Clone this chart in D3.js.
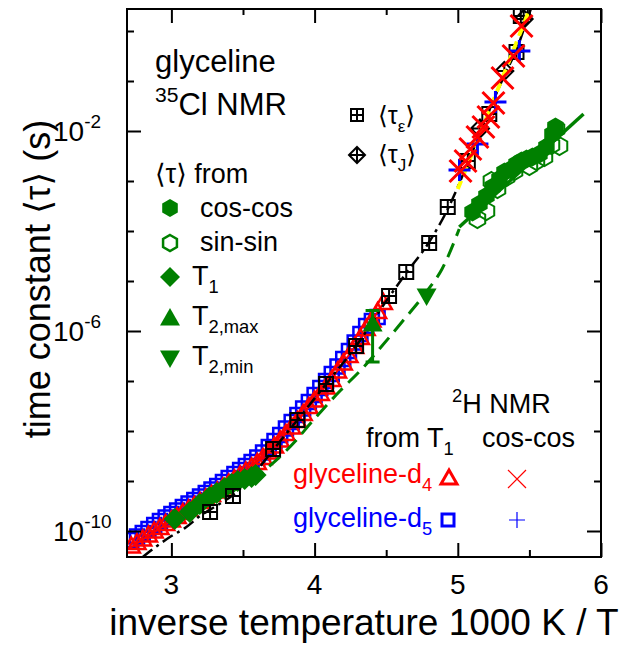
<!DOCTYPE html>
<html>
<head>
<meta charset="utf-8">
<script src="https://cdn.jsdelivr.net/npm/d3@7"></script>
<style>
  body { margin: 0; background: #fff; }
  svg { font-family: "Liberation Sans", Arial, "DejaVu Sans", sans-serif; }
</style>
</head>
<body>
<svg id="chart" width="622" height="645"></svg>
<script>
// x = 1000 K / T, y = log10(tau / s)
const xMajor = [3, 4, 5, 6];
const xMinor = [3.5, 4.5, 5.5];
const yMajor = [-10, -6, -2];
const yMinor = [-9, -8, -7, -5, -4, -3, -1, 0];

// 2H NMR, glyceline-d4, from T1 (open red triangles)
const d4T1 = [
  [2.72,-10.30],[2.76,-10.23],[2.80,-10.16],[2.84,-10.08],[2.88,-10.00],[2.92,-9.93],
  [2.96,-9.85],[3.00,-9.78],[3.04,-9.71],[3.08,-9.63],[3.12,-9.56],[3.16,-9.49],
  [3.20,-9.41],[3.24,-9.34],[3.28,-9.27],[3.32,-9.20],[3.36,-9.12],[3.40,-9.04],
  [3.44,-8.96],[3.48,-8.88],[3.52,-8.80],[3.56,-8.72],[3.60,-8.63],[3.64,-8.53],
  [3.68,-8.42],[3.72,-8.30],[3.76,-8.18],[3.80,-8.05],[3.84,-7.92],[3.88,-7.79],
  [3.92,-7.65],[3.96,-7.51],[4.00,-7.38],[4.04,-7.25],[4.08,-7.12],[4.12,-6.97],
  [4.16,-6.80],[4.20,-6.64],[4.24,-6.49],[4.28,-6.31],[4.32,-6.13],[4.36,-5.95],
  [4.40,-5.78],[4.44,-5.61],[4.48,-5.43]
];
// glyceline-d5, from T1 (open blue squares)
const d5T1 = [
  [2.72,-10.18],[2.76,-10.11],[2.80,-10.04],[2.84,-9.96],[2.88,-9.88],[2.92,-9.80],
  [2.96,-9.73],[3.00,-9.66],[3.04,-9.59],[3.08,-9.52],[3.12,-9.45],[3.16,-9.38],
  [3.20,-9.31],[3.24,-9.24],[3.28,-9.17],[3.32,-9.10],[3.36,-9.02],[3.40,-8.94],
  [3.44,-8.86],[3.48,-8.78],[3.52,-8.70],[3.56,-8.62],[3.60,-8.53],[3.64,-8.43],
  [3.68,-8.32],[3.72,-8.20],[3.76,-8.08],[3.80,-7.95],[3.84,-7.82],[3.88,-7.68],
  [3.92,-7.55],[3.96,-7.42],[4.00,-7.28],[4.04,-7.14],[4.08,-7.00],[4.12,-6.86],
  [4.16,-6.71],[4.20,-6.56],[4.24,-6.40],[4.28,-6.23],[4.32,-6.06],[4.36,-5.90],
  [4.40,-5.80],[4.44,-5.72]
];
// 2H cos-cos
const d4CosCos = [
  [5.445,0.10],[5.389,-0.50],[5.312,-0.94],[5.249,-1.44],[5.214,-1.72],
  [5.179,-1.92],[5.137,-2.12],[5.088,-2.36],[5.054,-2.60],[5.019,-2.80]
];
const d5CosCos = [[5.012,-2.78],[5.137,-2.26],[5.263,-1.42],[5.43,-0.40]];

// dielectric / rotational reference data
const tauEps = [
  [3.27,-9.62],[3.43,-9.30],[3.71,-8.36],[3.88,-7.78],[4.08,-7.06],[4.29,-6.30],
  [4.52,-5.30],[4.64,-4.82],[4.80,-4.24],[4.93,-3.52],[5.07,-2.60],[5.22,-1.66],
  [5.41,-0.42],[5.44,0.30]
];
const tauJ = [[5.155,-1.95],[5.325,-0.80],[5.46,0.24]];

// 35Cl NMR
const clCosCos = [
  [5.103,-3.62],[5.151,-3.46],[5.200,-3.30],[5.243,-3.12],[5.291,-2.96],[5.326,-2.82],
  [5.375,-2.76],[5.410,-2.66],[5.445,-2.60],[5.480,-2.56],[5.521,-2.52],[5.570,-2.46],
  [5.619,-2.32],[5.661,-2.06],[5.682,-1.92]
];
const clSinSin = [
  [5.137,-3.76],[5.200,-3.60],[5.235,-3.00],[5.277,-3.16],[5.340,-2.92],[5.396,-2.80],
  [5.500,-2.70],[5.549,-2.60],[5.605,-2.52],[5.654,-2.28],[5.710,-2.30],[5.689,-1.96]
];
const clT1 = [
  [3.023,-9.76],[3.128,-9.62],[3.198,-9.46],[3.267,-9.32],[3.316,-9.24],[3.372,-9.14],
  [3.421,-9.06],[3.463,-9.00],[3.512,-8.96],[3.560,-8.92],[3.588,-8.88]
];
const clT2max = [[4.405,-5.86,-5.59,-6.62]]; // x, value, bar top, bar bottom
const clT2min = [[4.782,-5.30]];

// fit curves
const fitEps = [
  [2.80,-10.52],[2.90,-10.30],[3.00,-10.10],[3.10,-9.93],[3.20,-9.70],[3.30,-9.52],
  [3.43,-9.28],[3.55,-8.95],[3.71,-8.38],[3.88,-7.78],[4.08,-7.06],[4.29,-6.30],
  [4.52,-5.32],[4.64,-4.84],[4.80,-4.22],[4.93,-3.56],[5.07,-2.64],[5.20,-1.72],
  [5.32,-0.92],[5.42,-0.30],[5.48,0.20],[5.51,0.44]
];
const fitD4 = [
  [2.70,-10.36],[3.00,-9.80],[3.30,-9.24],[3.56,-8.72],[3.80,-8.05],[4.00,-7.38],
  [4.20,-6.64],[4.40,-5.80],[4.50,-5.35]
];
const fitCosCos2H = [[5.00,-3.16],[5.25,-1.38],[5.51,0.50]];
const fitClLow = [
  [3.56,-9.00],[3.86,-8.22],[3.98,-7.82],[4.17,-7.22],[4.33,-6.76],[4.47,-6.30],
  [4.61,-5.82],[4.78,-5.22],[4.89,-4.76],[5.01,-3.96]
];
const fitClHigh = [[5.01,-3.92],[5.878,-1.66]];

const RED = "#ff0000", BLUE = "#0000ff", GREEN = "#008000";

const svg = d3.select("#chart");
const x = d3.scaleLinear().domain([2.69, 6.0]).range([127, 601]);
const y = d3.scaleLog().domain([Math.pow(10, -10.52), Math.pow(10, 0.44)]).range([557, 9]);
const px = d => x(d[0]);
const py = d => y(Math.pow(10, d[1]));

// custom symbol shapes (size = r*r)
const hexagon = { draw(c, s) { const r = Math.sqrt(s);
  for (let i = 0; i < 6; i++) { const a = Math.PI / 3 * i - Math.PI / 2;
    i ? c.lineTo(r * Math.cos(a), r * Math.sin(a)) : c.moveTo(r * Math.cos(a), r * Math.sin(a)); }
  c.closePath(); } };
const triUp = { draw(c, s) { const r = Math.sqrt(s);
  c.moveTo(0, -r); c.lineTo(r, r * 0.75); c.lineTo(-r, r * 0.75); c.closePath(); } };
const triDown = { draw(c, s) { const r = Math.sqrt(s);
  c.moveTo(0, r); c.lineTo(r, -r * 0.75); c.lineTo(-r, -r * 0.75); c.closePath(); } };
const diamond = { draw(c, s) { const r = Math.sqrt(s);
  c.moveTo(0, -r); c.lineTo(r, 0); c.lineTo(0, r); c.lineTo(-r, 0); c.closePath(); } };
const square = { draw(c, s) { const r = Math.sqrt(s); c.rect(-r, -r, 2 * r, 2 * r); } };
const squarePlus = { draw(c, s) { const r = Math.sqrt(s); c.rect(-r, -r, 2 * r, 2 * r);
  c.moveTo(0, -r); c.lineTo(0, r); c.moveTo(-r, 0); c.lineTo(r, 0); } };
const diamondPlus = { draw(c, s) { const r = Math.sqrt(s);
  c.moveTo(0, -r); c.lineTo(r, 0); c.lineTo(0, r); c.lineTo(-r, 0); c.closePath();
  c.moveTo(0, -r); c.lineTo(0, r); c.moveTo(-r, 0); c.lineTo(r, 0); } };
const xMark = { draw(c, s) { const r = Math.sqrt(s);
  c.moveTo(-r, -r); c.lineTo(r, r); c.moveTo(-r, r); c.lineTo(r, -r); } };
const plusMark = { draw(c, s) { const r = Math.sqrt(s);
  c.moveTo(0, -r); c.lineTo(0, r); c.moveTo(-r, 0); c.lineTo(r, 0); } };

svg.append("clipPath").attr("id", "clip")
  .append("rect").attr("x", 127).attr("y", 9).attr("width", 474).attr("height", 548);
const plot = svg.append("g").attr("clip-path", "url(#clip)");

function drawPoints(data, type, r, fill, stroke, sw) {
  plot.append("g").selectAll("path").data(data).join("path")
    .attr("transform", d => `translate(${px(d)},${py(d)})`)
    .attr("d", d3.symbol(type, r * r))
    .attr("fill", fill).attr("stroke", stroke).attr("stroke-width", sw)
    .attr("stroke-linejoin", "miter");
}
function drawLine(data, color, width, dash) {
  plot.append("path").datum(data)
    .attr("d", d3.line().x(px).y(py).curve(d3.curveMonotoneX))
    .attr("fill", "none").attr("stroke", color).attr("stroke-width", width)
    .attr("stroke-dasharray", dash || null);
}

drawPoints(d5T1, square, 7, "none", BLUE, 2.5);
drawPoints(d4T1, triUp, 8.5, "none", RED, 2.5);
drawLine(fitD4, RED, 2);
drawLine(fitEps, "#000", 2.5, "12,5,3,5");
drawLine(fitClLow, GREEN, 3, "15,8");
drawLine(fitClHigh, GREEN, 3.5);
drawPoints(clT1, diamond, 11, GREEN, "none", 0);

// T2,max with error bar
const eb = plot.append("g").attr("stroke", GREEN).attr("stroke-width", 3);
clT2max.forEach(d => {
  eb.append("line").attr("x1", x(d[0])).attr("x2", x(d[0]))
    .attr("y1", y(Math.pow(10, d[2]))).attr("y2", y(Math.pow(10, d[3])));
  [d[2], d[3]].forEach(v => eb.append("line")
    .attr("x1", x(d[0]) - 7).attr("x2", x(d[0]) + 7)
    .attr("y1", y(Math.pow(10, v))).attr("y2", y(Math.pow(10, v))));
});
drawPoints(clT2max, triUp, 10, GREEN, "none", 0);
drawPoints(clT2min, triDown, 10, GREEN, "none", 0);

drawPoints(clCosCos, hexagon, 9.5, GREEN, "none", 0);
drawPoints(clSinSin, hexagon, 9, "none", GREEN, 2);

drawPoints(tauEps, squarePlus, 7, "none", "#000", 2);
drawPoints(tauJ, diamondPlus, 9, "none", "#000", 2);
drawLine(fitCosCos2H, "#ffff00", 4, "9,6");
drawPoints(d5CosCos, plusMark, 11, "none", BLUE, 3);
drawPoints(d4CosCos, xMark, 11, "none", RED, 3);

// axes: inward ticks on all four sides
function tickAxis(axis, vals, size, tr) {
  const g = svg.append("g").attr("transform", tr)
    .call(axis.tickValues(vals).tickSize(-size).tickFormat(""));
  g.select(".domain").remove();
  g.selectAll("text").remove();
  g.selectAll("line").attr("stroke", "#000").attr("stroke-width", 2);
}
const yM = yMajor.map(e => Math.pow(10, e)), ym = yMinor.map(e => Math.pow(10, e));
tickAxis(d3.axisBottom(x), xMajor, 14, "translate(0,557)");
tickAxis(d3.axisBottom(x), xMinor, 7, "translate(0,557)");
tickAxis(d3.axisTop(x), xMajor, 14, "translate(0,9)");
tickAxis(d3.axisTop(x), xMinor, 6, "translate(0,9)");
tickAxis(d3.axisLeft(y), yM, 14, "translate(127,0)");
tickAxis(d3.axisLeft(y), ym, 7, "translate(127,0)");
tickAxis(d3.axisRight(y), yM, 14, "translate(601,0)");
tickAxis(d3.axisRight(y), ym, 7, "translate(601,0)");

svg.append("rect").attr("x", 127).attr("y", 9).attr("width", 474).attr("height", 548)
  .attr("fill", "none").attr("stroke", "#000").attr("stroke-width", 2);

// tick labels
svg.append("g").selectAll("text").data(xMajor).join("text")
  .attr("x", d => x(d)).attr("y", 594).attr("text-anchor", "middle")
  .attr("font-size", 28).text(d => d);
yMajor.forEach(e => {
  const t = svg.append("text").attr("x", 53).attr("y", y(Math.pow(10, e)) + 10).attr("font-size", 28);
  t.append("tspan").text("10");
  t.append("tspan").attr("font-size", 19).attr("dy", -13).text(String(e));
});

// axis titles
svg.append("text").attr("x", 364).attr("y", 635).attr("text-anchor", "middle")
  .attr("font-size", 37).text("inverse temperature 1000 K / T");
svg.append("text").attr("transform", "translate(50,279) rotate(-90)")
  .attr("text-anchor", "middle").attr("font-size", 36).text("time constant \u27E8\u03C4\u27E9 (s)");

// text helper with sub/superscripts: parts = [[text, "n"|"sub"|"sup"], ...]
function rich(xp, yp, parts, size, color) {
  const t = svg.append("text").attr("x", xp).attr("y", yp).attr("font-size", size).attr("fill", color || "#000");
  let shift = 0;
  parts.forEach(([s, k]) => {
    const target = k === "sub" ? size * 0.3 : k === "sup" ? -size * 0.42 : 0;
    t.append("tspan").attr("dy", target - shift)
      .attr("font-size", k === "n" ? size : size * 0.68).text(s);
    shift = target;
  });
  return t;
}

rich(155, 72, [["glyceline", "n"]], 31);
rich(155, 115, [["35", "sup"], ["Cl NMR", "n"]], 31);
rich(155, 183, [["\u27E8\u03C4\u27E9 from", "n"]], 27);

const legendCl = [
  { sym: hexagon, r: 9, fill: GREEN, stroke: "none", y: 208, ty: 217, parts: [["cos-cos", "n"]], tx: 200 },
  { sym: hexagon, r: 8, fill: "none", stroke: GREEN, y: 243, ty: 251, parts: [["sin-sin", "n"]], tx: 200 },
  { sym: diamond, r: 10, fill: GREEN, stroke: "none", y: 277, ty: 285, parts: [["T", "n"], ["1", "sub"]], tx: 192 },
  { sym: triUp, r: 10, fill: GREEN, stroke: "none", y: 318, ty: 325, parts: [["T", "n"], ["2,max", "sub"]], tx: 192 },
  { sym: triDown, r: 10, fill: GREEN, stroke: "none", y: 358, ty: 365, parts: [["T", "n"], ["2,min", "sub"]], tx: 192 }
];
legendCl.forEach(l => {
  svg.append("path").attr("transform", `translate(170,${l.y})`)
    .attr("d", d3.symbol(l.sym, l.r * l.r)).attr("fill", l.fill)
    .attr("stroke", l.stroke).attr("stroke-width", 2.5);
  rich(l.tx, l.ty, l.parts, 27);
});

svg.append("path").attr("transform", "translate(357,115)").attr("d", d3.symbol(squarePlus, 36))
  .attr("fill", "none").attr("stroke", "#000").attr("stroke-width", 2);
svg.append("path").attr("transform", "translate(357,155)").attr("d", d3.symbol(diamondPlus, 64))
  .attr("fill", "none").attr("stroke", "#000").attr("stroke-width", 2);
rich(378, 124, [["\u27E8\u03C4", "n"], ["\u03B5", "sub"], ["\u27E9", "n"]], 25);
rich(378, 163, [["\u27E8\u03C4", "n"], ["J", "sub"], ["\u27E9", "n"]], 25);

// 2H legend
rich(452, 413, [["2", "sup"], ["H NMR", "n"]], 27);
rich(366, 447, [["from T", "n"], ["1", "sub"]], 27);
rich(482, 447, [["cos-cos", "n"]], 27);
rich(293, 483, [["glyceline-d", "n"], ["4", "sub"]], 27, RED);
rich(293, 527, [["glyceline-d", "n"], ["5", "sub"]], 27, BLUE);
svg.append("path").attr("transform", "translate(449,478)").attr("d", d3.symbol(triUp, 64))
  .attr("fill", "none").attr("stroke", RED).attr("stroke-width", 3);
svg.append("path").attr("transform", "translate(448,520)").attr("d", d3.symbol(square, 36))
  .attr("fill", "none").attr("stroke", BLUE).attr("stroke-width", 3);
svg.append("path").attr("transform", "translate(517,479)").attr("d", d3.symbol(xMark, 81))
  .attr("fill", "none").attr("stroke", RED).attr("stroke-width", 1.2);
svg.append("path").attr("transform", "translate(517,520)").attr("d", d3.symbol(plusMark, 64))
  .attr("fill", "none").attr("stroke", BLUE).attr("stroke-width", 1.2);
</script>
</body>
</html>
